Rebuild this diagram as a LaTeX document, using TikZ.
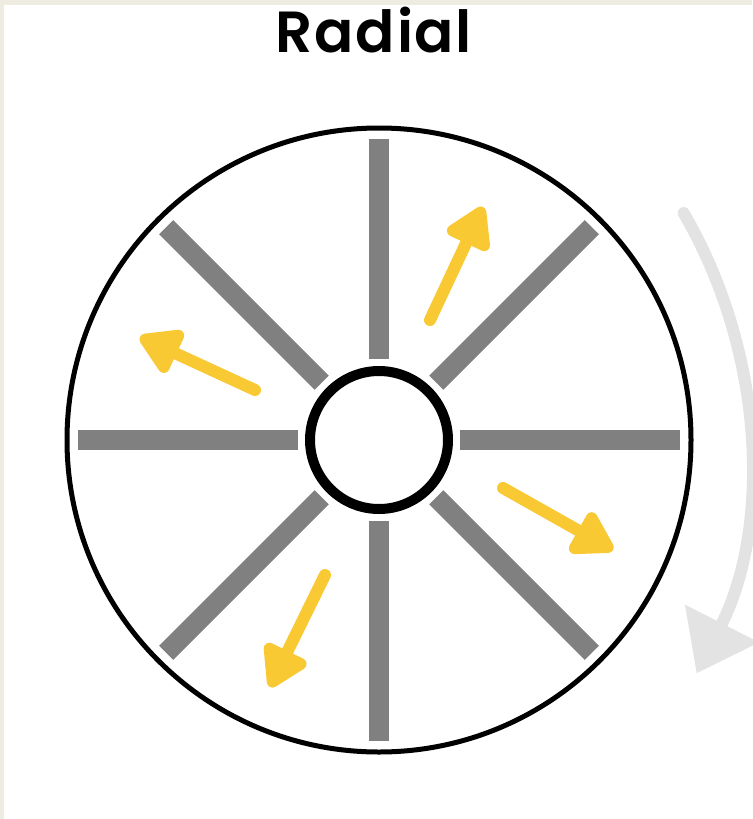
\documentclass[tikz,border=0pt]{standalone}
\usepackage{fontspec}
\setmainfont{Poppins}[BoldFont={Poppins SemiBold}]
\usetikzlibrary{arrows.meta}
\definecolor{beige}{RGB}{238,235,225}
\definecolor{spokegray}{RGB}{128,128,128}
\definecolor{arrowyellow}{RGB}{249,201,51}
\definecolor{arcgray}{RGB}{227,227,227}
\tikzset{
  spoke/.style={draw=spokegray,line width=10pt,line cap=butt},
  flowarrow/.style={draw=arrowyellow,line width=6pt,line cap=round,
    -{Triangle[length=23pt,width=26pt,round,fill=arrowyellow]}},
  rotarrow/.style={draw=arcgray,line width=6pt,line cap=round,
    -{Triangle[length=28pt,width=40pt,fill=arcgray]}}
}
\begin{document}
\begin{tikzpicture}[x=0.5pt,y=-0.5pt]
\useasboundingbox (0,0) rectangle (752,819);
\fill[beige] (0,0) rectangle (752,819);
\fill[white] (4,5) rectangle (752,819);
\node[anchor=base,font=\bfseries\fontsize{29}{32}\selectfont] (title) at (374,52) {\addfontfeatures{LetterSpace=3}Radial};
\coordinate (c) at (379,440);
% rotation arrow
\draw[rotarrow] (268,455) ++(-30.2:481) arc[start angle=-30.2,end angle=27,radius=481];
% spokes
\foreach \a in {0,45,...,315}{
  \draw[spoke] (c) ++(\a:81) -- ++(\a:220);
}
% outer rim and hub
\draw[line width=2.5pt] (c) circle[radius=312];
\draw[line width=5pt] (c) circle[radius=69];
% flow arrows
\coordinate (a1s) at (430,320); \coordinate (a1e) at (483,207);
\coordinate (a2s) at (255,390); \coordinate (a2e) at (140,337);
\coordinate (a3s) at (503,488); \coordinate (a3e) at (613,550);
\coordinate (a4s) at (325,575); \coordinate (a4e) at (270,687);
\draw[flowarrow] (a1s) -- (a1e);
\draw[flowarrow] (a2s) -- (a2e);
\draw[flowarrow] (a3s) -- (a3e);
\draw[flowarrow] (a4s) -- (a4e);
\end{tikzpicture}
\end{document}
